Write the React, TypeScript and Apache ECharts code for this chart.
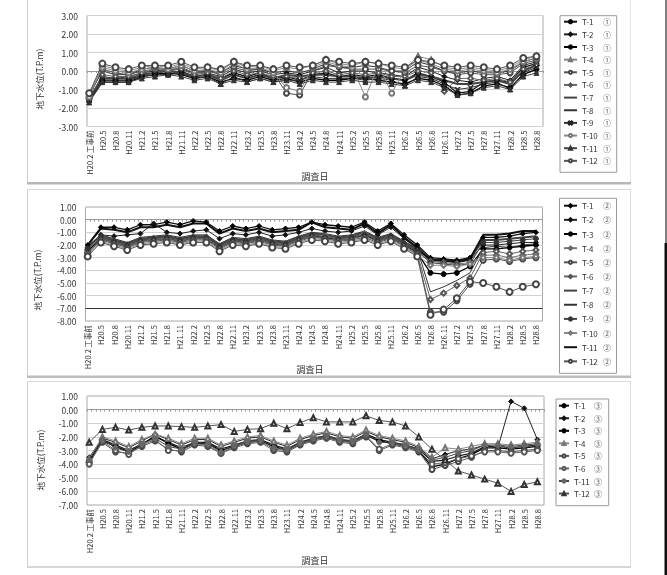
import React, { useEffect, useRef } from "react";
import * as echarts from "echarts";

const FONT = '"Noto Sans CJK JP", "Noto Sans", sans-serif';

// Tick labels (every 3 months), x-axis is monthly
const TICK_LABELS = [
  "H20.2 工事前", "H20.5", "H20.8", "H20.11", "H21.2", "H21.5", "H21.8", "H21.11",
  "H22.2", "H22.5", "H22.8", "H22.11", "H23.2", "H23.5", "H23.8", "H23.11",
  "H24.2", "H24.5", "H24.8", "H24.11", "H25.2", "H25.5", "H25.8", "H25.11",
  "H26.2", "H26.5", "H26.8", "H26.11", "H27.2", "H27.5", "H27.8", "H27.11",
  "H28.2", "H28.5", "H28.8",
];
const MONTH_COUNT = 104;
const CATEGORIES = Array.from({ length: MONTH_COUNT }, (_, i) =>
  i % 3 === 0 ? TICK_LABELS[i / 3] : `${TICK_LABELS[Math.floor(i / 3)]}+${i % 3}`
);

const Y_NAME = "地下水位(T.P.m)";
const X_NAME = "調査日";

// ---------- Chart ① ----------
const C1_NAMES = ["T-1 ①", "T-2 ①", "T-3 ①", "T-4 ①", "T-5 ①", "T-6 ①", "T-7 ①", "T-8 ①", "T-9 ①", "T-10 ①", "T-11 ①", "T-12 ①"];
const C1_T1 = [-1.4,-0.5,-0.5,-0.5,-0.2, -0.1,-0.2,0.0,-0.3,-0.2, -0.4,-0.1,-0.3,-0.1,-0.4, -0.3,-0.5,-0.2,-0.1,-0.3, -0.2,-0.3,-0.2,-0.4,-0.5, -0.1,-0.3,-0.6,-1.2,-1.1, -0.6,-0.5,-0.6,0.2,0.4];
const C1_T2 = [-1.5,-0.3,-0.4,-0.3,-0.1, 0.0,0.1,0.1,-0.1,-0.1, -0.3,0.1,-0.1,0.0,-0.2, -0.1,-0.2,0.0,0.2,-0.1, 0.0,0.0,-0.1,-0.2,-0.3, 0.2,0.0,-0.3,-0.5,-0.6, -0.4,-0.3,-0.5,0.3,0.5];
const C1_T3 = [-1.6,-0.6,-0.6,-0.6,-0.3, -0.2,-0.1,-0.2,-0.4,-0.3, -0.6,-0.4,-0.5,-0.3,-0.5, -0.4,-0.6,-0.4,-0.5,-0.5, -0.4,-0.4,-0.5,-0.6,-0.7, -0.4,-0.5,-0.8,-1.3,-1.2, -0.8,-0.7,-0.9,-0.2,0.1];
const C1_T4 = [-1.3,0.3,0.1,0.0,0.2, 0.3,0.2,0.4,0.1,0.2, 0.0,0.5,0.2,0.3,0.0, 0.2,0.1,0.3,0.6,0.4, 0.3,0.5,0.4,0.2,0.1, 0.8,0.6,0.2,0.1,0.2, 0.1,0.0,0.2,0.6,0.8];
const C1_T5 = [-1.4,0.1,-0.1,-0.2,0.0, 0.1,0.0,0.2,-0.1,0.0, -0.2,0.2,0.0,0.1,-0.1, -1.2,-1.3,0.0,0.3,0.2, 0.1,0.1,0.1,0.0,-0.1, 0.3,0.2,0.0,-0.2,-0.1, -0.2,-0.2,-0.1,0.4,0.6];
const C1_T6 = [-1.5,-0.2,-0.3,-0.3,-0.1, 0.1,0.0,0.1,-0.2,-0.1, -0.4,0.0,-0.2,-0.1,-0.3, -0.3,-0.4,-0.1,0.0,-0.2, -0.1,-0.2,-0.1,-0.3,-0.3, 0.0,-0.1,-1.1,-0.4,-0.4, -0.5,-0.4,-0.6,0.1,0.3];
const C1_T7 = [-1.5,-0.4,-0.4,-0.4,-0.2, -0.1,0.0,-0.1,-0.3,-0.2, -0.5,-0.2,-0.4,-0.2,-0.4, -0.2,-0.3,-0.2,-0.2,-0.3, -0.3,-0.4,-0.3,-0.4,-0.5, -0.2,-0.3,-0.5,-0.7,-0.7, -0.6,-0.5,-0.7,0.0,0.3];
const C1_T8 = [-1.3,0.0,-0.2,-0.2,0.1, 0.2,0.1,0.3,0.0,0.0, -0.1,0.3,0.1,0.1,-0.1, 0.0,-0.1,0.1,0.4,0.2, 0.2,0.3,0.2,0.0,0.0, 0.5,0.3,0.0,-0.1,0.0, -0.1,-0.1,0.0,0.5,0.7];
const C1_T9 = [-1.6,-0.5,-0.5,-0.5,-0.3, -0.2,-0.2,-0.1,-0.4,-0.3, -0.7,-0.3,-0.6,-0.4,-0.6, -0.5,-0.5,-0.3,-0.4,-0.4, -0.4,-0.5,-0.4,-0.5,-0.8, -0.3,-0.4,-0.7,-1.0,-0.9, -0.7,-0.6,-1.0,-0.1,0.2];
const C1_T10 = [-1.4,0.2,0.0,-0.1,0.1, 0.2,0.1,0.3,0.0,0.1, -0.1,0.4,0.1,0.2,-0.1, -0.9,-1.1,0.2,0.5,0.3, 0.2,-1.4,0.3,-1.2,0.1, 0.6,0.4,0.1,0.0,0.1, 0.0,-0.1,0.1,0.5,0.7];
const C1_T11 = [-1.7,-0.6,-0.6,-0.6,-0.4, -0.3,-0.2,-0.3,-0.5,-0.4, -0.7,-0.5,-0.6,-0.4,-0.6, -0.5,-0.7,-0.5,-0.6,-0.6, -0.5,-0.6,-0.6,-0.7,-0.8, -0.5,-0.6,-0.9,-1.3,-1.2, -0.9,-0.8,-1.0,-0.3,-0.1];
const C1_T12 = [-1.2,0.4,0.2,0.1,0.3, 0.3,0.3,0.5,0.2,0.2, 0.1,0.5,0.3,0.3,0.1, 0.3,0.2,0.3,0.6,0.5, 0.4,0.5,0.4,0.3,0.2, 0.6,0.5,0.3,0.2,0.3, 0.2,0.1,0.3,0.7,0.8];

// ---------- Chart ② ----------
const C2_NAMES = ["T-1 ②", "T-2 ②", "T-3 ②", "T-4 ②", "T-5 ②", "T-6 ②", "T-7 ②", "T-8 ②", "T-9 ②", "T-10 ②", "T-11 ②", "T-12 ②"];
const C2_T1 = [-2.0,-0.6,-0.6,-0.8,-0.4, -0.4,-0.2,-0.4,-0.1,-0.2, -0.9,-0.5,-0.7,-0.5,-0.8, -0.7,-0.6,-0.2,-0.4,-0.5, -0.6,-0.2,-0.9,-0.3,-1.2, -2.0,-3.0,-3.1,-3.2,-3.0, -1.4,-1.4,-1.3,-1.1,-1.0];
const C2_T2 = [-2.2,-1.2,-1.3,-1.2,-1.1, -0.3,-1.0,-1.1,-0.9,-0.8, -1.5,-1.1,-1.2,-1.0,-1.3, -1.2,-1.0,-0.7,-0.9,-1.0, -0.9,-0.5,-1.2,-0.6,-1.5, -2.3,-3.2,-3.3,-3.4,-3.2, -2.0,-2.0,-1.9,-1.8,-1.8];
const C2_T3 = [-2.5,-1.5,-1.8,-2.1,-1.7, -1.6,-1.5,-1.7,-1.5,-1.5, -2.2,-1.7,-1.8,-1.6,-1.9, -2.0,-1.6,-1.3,-1.4,-1.6, -1.5,-1.2,-1.7,-1.4,-2.0, -2.6,-4.2,-4.3,-4.2,-3.7, -2.3,-2.3,-2.2,-2.1,-2.0];
const C2_T4 = [-2.4,-1.4,-1.7,-2.0,-1.6, -1.5,-1.4,-1.6,-1.4,-1.4, -2.1,-1.6,-1.7,-1.5,-1.8, -1.9,-1.5,-1.2,-1.3,-1.5, -1.4,-1.1,-1.6,-1.3,-1.9, -2.5,-3.3,-3.4,-3.5,-3.4, -2.8,-2.8,-3.0,-2.8,-2.7];
const C2_T5 = [-2.7,-1.6,-1.9,-2.2,-1.8, -1.7,-1.6,-1.8,-1.6,-1.6, -2.3,-1.8,-1.9,-1.7,-2.0, -2.1,-1.7,-1.4,-1.5,-1.7, -1.6,-1.4,-1.8,-1.5,-2.1, -2.8,-7.3,-7.3,-6.4,-5.1, -3.2,-3.1,-3.3,-3.1,-3.0];
const C2_T6 = [-2.6,-1.5,-1.8,-2.1,-1.7, -1.6,-1.5,-1.7,-1.5,-1.5, -2.2,-1.7,-1.8,-1.6,-1.9, -2.0,-1.6,-1.3,-1.5,-1.6, -1.5,-1.3,-1.7,-1.4,-2.0, -2.7,-6.3,-5.8,-5.2,-4.6, -2.6,-2.5,-2.7,-2.5,-2.4];
const C2_T7 = [-2.1,-1.3,-1.6,-1.9,-1.5, -1.4,-1.3,-1.5,-1.3,-1.3, -2.0,-1.5,-1.6,-1.4,-1.7, -1.8,-1.4,-1.1,-1.2,-1.4, -1.3,-1.0,-1.5,-1.2,-1.8, -2.4,-3.1,-3.2,-3.3,-3.1, -1.6,-1.6,-1.5,-1.4,-1.3];
const C2_T8 = [-2.2,-1.2,-1.5,-1.8,-1.4, -1.3,-1.2,-1.4,-1.2,-1.2, -1.9,-1.4,-1.5,-1.3,-1.6, -1.7,-1.3,-1.0,-1.1,-1.3, -1.2,-0.9,-1.4,-1.1,-1.7, -2.3,-5.7,-5.3,-4.8,-4.2, -2.2,-2.1,-2.2,-2.0,-1.9];
const C2_T9 = [-2.3,-1.4,-1.7,-2.0,-1.6, -1.5,-1.4,-1.6,-1.4,-1.4, -2.1,-1.6,-1.7,-1.5,-1.8, -1.9,-1.5,-1.2,-1.4,-1.5, -1.4,-1.2,-1.6,-1.3,-1.9, -2.5,-3.4,-3.5,-3.6,-3.5, -1.8,-1.8,-1.7,-1.6,-1.5];
const C2_T10 = [-2.8,-1.7,-2.0,-2.3,-1.9, -1.8,-1.7,-1.9,-1.7,-1.7, -2.4,-1.9,-2.0,-1.8,-2.1, -2.2,-1.8,-1.5,-1.6,-1.8, -1.7,-1.5,-1.9,-1.6,-2.2, -2.8,-3.6,-3.6,-3.7,-3.5, -3.0,-3.0,-3.2,-3.0,-2.9];
const C2_T11 = [-2.0,-0.7,-0.8,-1.0,-0.6, -0.6,-0.4,-0.6,-0.3,-0.3, -1.1,-0.7,-0.9,-0.7,-1.0, -0.9,-0.8,-0.2,-0.6,-0.7, -0.8,-0.3,-1.1,-0.4,-1.4, -2.2,-3.2,-3.2,-3.3,-3.1, -1.2,-1.2,-1.1,-0.9,-0.9];
const C2_T12 = [-2.9,-1.8,-2.1,-2.4,-2.0, -1.9,-1.8,-2.0,-1.8,-1.8, -2.5,-2.0,-2.1,-1.9,-2.2, -2.3,-1.9,-1.6,-1.7,-1.9, -1.8,-1.6,-2.0,-1.7,-2.3, -2.9,-7.5,-7.1,-6.2,-4.9, -5.0,-5.3,-5.7,-5.3,-5.1];

// ---------- Chart ③ ----------
const C3_NAMES = ["T-1 ③", "T-2 ③", "T-3 ③", "T-4 ③", "T-5 ③", "T-6 ③", "T-11③", "T-12③"];
const C3_T1 = [-3.7,-2.2,-2.6,-3.0,-2.5, -2.0,-2.4,-2.8,-2.4,-2.4, -2.9,-2.6,-2.3,-2.2,-2.6, -2.9,-2.4,-2.1,-1.9,-2.2, -2.3,-1.8,-2.2,-2.4,-2.6, -2.9,-3.8,-3.7,-3.4,-3.2, -2.7,-2.7,-2.8,-2.7,-2.6];
const C3_T2 = [-3.5,-2.1,-2.4,-2.8,-2.3, -1.8,-2.2,-2.6,-2.2,-2.2, -2.7,-2.4,-2.1,-2.0,-2.4, -2.7,-2.2,-1.9,-1.7,-2.0, -2.1,-1.6,-2.0,-2.2,-2.4, -2.8,-3.6,-3.3,-3.0,-2.9, -2.6,-2.8,0.6,0.1,-2.2];
const C3_T3 = [-3.8,-2.3,-2.7,-3.1,-2.6, -1.9,-2.5,-2.9,-2.5,-2.5, -3.0,-2.7,-2.4,-2.3,-2.7, -3.0,-2.5,-2.2,-2.0,-2.3, -2.4,-1.9,-2.3,-2.5,-2.7, -3.0,-4.2,-4.0,-3.6,-3.3, -2.8,-2.8,-2.9,-2.8,-2.7];
const C3_T4 = [-3.6,-2.0,-2.3,-2.7,-2.2, -1.8,-2.1,-2.5,-2.1,-2.1, -2.6,-2.3,-2.0,-1.9,-2.3, -2.6,-2.1,-1.8,-1.6,-1.9, -2.0,-1.5,-1.9,-2.1,-2.3, -2.7,-3.5,-2.8,-2.9,-2.7, -2.5,-2.5,-2.6,-2.5,-2.4];
const C3_T5 = [-3.9,-2.4,-3.1,-3.2,-2.7, -2.3,-2.9,-3.1,-2.6,-2.7, -3.2,-2.8,-2.5,-2.4,-3.0, -3.1,-2.6,-2.3,-2.1,-2.4, -2.5,-2.0,-3.0,-2.6,-2.8, -3.1,-4.4,-4.1,-3.8,-3.5, -3.0,-3.0,-3.1,-3.0,-2.9];
const C3_T6 = [-4.0,-2.3,-3.0,-3.3,-2.6, -2.2,-3.0,-3.0,-2.5,-2.6, -3.2,-2.7,-2.4,-2.3,-2.9, -3.0,-2.5,-2.2,-2.0,-2.3, -2.4,-1.9,-2.9,-2.5,-2.7, -3.0,-4.0,-3.9,-3.6,-3.4, -3.1,-3.1,-3.2,-3.1,-3.0];
const C3_T11 = [-3.7,-2.2,-2.8,-3.1,-2.5, -2.1,-2.7,-2.9,-2.4,-2.5, -3.1,-2.6,-2.3,-2.2,-2.8, -2.9,-2.4,-2.1,-1.9,-2.2, -2.3,-1.8,-2.4,-2.4,-2.6, -2.9,-3.7,-3.5,-3.2,-3.0, -2.6,-2.6,-2.7,-2.6,-2.5];
const C3_T12 = [-2.4,-1.45,-1.3,-1.5,-1.3, -1.2,-1.2,-1.25,-1.3,-1.2, -1.1,-1.6,-1.45,-1.4,-1.0, -1.4,-0.95,-0.6,-0.9,-0.9, -0.9,-0.45,-0.8,-0.9,-1.2, -2.0,-2.9,-3.7,-4.5,-4.8, -5.1,-5.4,-6.0,-5.5,-5.3];

const C1_DATA = [C1_T1, C1_T2, C1_T3, C1_T4, C1_T5, C1_T6, C1_T7, C1_T8, C1_T9, C1_T10, C1_T11, C1_T12];
const C2_DATA = [C2_T1, C2_T2, C2_T3, C2_T4, C2_T5, C2_T6, C2_T7, C2_T8, C2_T9, C2_T10, C2_T11, C2_T12];
const C3_DATA = [C3_T1, C3_T2, C3_T3, C3_T4, C3_T5, C3_T6, C3_T11, C3_T12];

const CROSS = "path://M0,1L1,0L5,4L9,0L10,1L6,5L10,9L9,10L5,6L1,10L0,9L4,5Z";

type Sty = { symbol: string; size: number; color: string; line: string; width: number };
const STY_1: Sty[] = [
  { symbol: "circle", size: 5, color: "#000", line: "#111", width: 1.2 },
  { symbol: "diamond", size: 5, color: "#111", line: "#222", width: 1 },
  { symbol: "circle", size: 5, color: "#000", line: "#000", width: 1.3 },
  { symbol: "emptyTriangle", size: 5, color: "#777", line: "#888", width: 1 },
  { symbol: "emptyCircle", size: 5, color: "#444", line: "#555", width: 1 },
  { symbol: "emptyDiamond", size: 5, color: "#555", line: "#666", width: 1 },
  { symbol: "none", size: 0, color: "#444", line: "#444", width: 2 },
  { symbol: "none", size: 0, color: "#333", line: "#333", width: 1 },
  { symbol: CROSS, size: 5, color: "#222", line: "#333", width: 1 },
  { symbol: "emptyCircle", size: 5, color: "#777", line: "#888", width: 1 },
  { symbol: "triangle", size: 5, color: "#333", line: "#444", width: 1 },
  { symbol: "emptyCircle", size: 6, color: "#444", line: "#555", width: 1 },
];
const STY_2: Sty[] = [
  { symbol: "diamond", size: 5, color: "#000", line: "#111", width: 1.3 },
  { symbol: "diamond", size: 5, color: "#111", line: "#222", width: 1 },
  { symbol: "circle", size: 5, color: "#000", line: "#000", width: 1.3 },
  { symbol: "emptyDiamond", size: 5, color: "#666", line: "#777", width: 1 },
  { symbol: "emptyCircle", size: 5, color: "#444", line: "#555", width: 1 },
  { symbol: "emptyDiamond", size: 5, color: "#555", line: "#666", width: 1 },
  { symbol: "none", size: 0, color: "#444", line: "#444", width: 2 },
  { symbol: "none", size: 0, color: "#333", line: "#333", width: 1 },
  { symbol: "circle", size: 5, color: "#333", line: "#444", width: 1 },
  { symbol: "emptyDiamond", size: 5, color: "#777", line: "#888", width: 1 },
  { symbol: "none", size: 0, color: "#111", line: "#111", width: 2 },
  { symbol: "emptyCircle", size: 6, color: "#444", line: "#555", width: 1 },
];
const STY_3: Sty[] = [
  { symbol: "circle", size: 5, color: "#000", line: "#111", width: 1.2 },
  { symbol: "diamond", size: 5, color: "#111", line: "#222", width: 1 },
  { symbol: "circle", size: 5, color: "#000", line: "#000", width: 1.3 },
  { symbol: "emptyTriangle", size: 5, color: "#777", line: "#888", width: 1 },
  { symbol: "emptyCircle", size: 5, color: "#444", line: "#555", width: 1 },
  { symbol: "emptyCircle", size: 5, color: "#555", line: "#666", width: 1 },
  { symbol: "circle", size: 5, color: "#666", line: "#444", width: 1 },
  { symbol: "emptyTriangle", size: 5, color: "#333", line: "#555", width: 1 },
];

function buildSeries(names: string[], datas: number[][], styles: Sty[], idx: number) {
  return names.map((name, i) => {
    const st = styles[i];
    return {
      type: "line",
      name,
      xAxisIndex: idx,
      yAxisIndex: idx,
      data: datas[i].map((v, k) => [k * 3, v]),
      symbol: st.symbol,
      symbolSize: st.size,
      showAllSymbol: true,
      lineStyle: { color: st.line, width: st.width },
      itemStyle: { color: st.color, borderColor: st.color, borderWidth: 1 },
      emphasis: { disabled: true },
      silent: true,
      animation: false,
    };
  });
}

const TXT = "#333";

function legendFor(names: string[], styles: Sty[], left: number, top: number, gap: number, aWidth: number, iconW: number) {
  return {
    data: names.map((name, i) =>
      styles[i].symbol === "none" ? { name, itemStyle: { opacity: 0 } } : { name }
    ),
    orient: "vertical",
    left,
    top,
    padding: 0,
    itemWidth: iconW,
    itemHeight: 4,
    itemGap: gap,
    selectedMode: false,
    formatter: (name: string) => {
      const m = name.match(/^(T-\d+)\s*(.)$/);
      return m ? `{a|${m[1]}}{b|${m[2]}}` : name;
    },
    textStyle: {
      fontSize: 8,
      lineHeight: 8,
      color: TXT,
      fontFamily: FONT,
      rich: {
        a: { width: aWidth, fontSize: 8, lineHeight: 8, color: TXT, fontFamily: FONT },
        b: { fontSize: 8, lineHeight: 8, color: "#555", fontFamily: FONT },
      },
    },
  };
}

function yAxisFor(idx: number, min: number, max: number, lineColors: string[] | string) {
  return {
    type: "value",
    gridIndex: idx,
    min,
    max,
    interval: 1,
    axisLine: { show: false },
    axisTick: { show: false },
    axisLabel: {
      formatter: (v: number) => v.toFixed(2),
      fontSize: 8.5,
      color: TXT,
      margin: 9,
      fontFamily: FONT,
    },
    splitLine: { show: true, lineStyle: { color: lineColors, width: 1 } },
  };
}

function xAxisFor(idx: number) {
  return {
    type: "category",
    gridIndex: idx,
    data: CATEGORIES,
    boundaryGap: true,
    axisLine: { show: true, lineStyle: { color: "#999", width: 1 } },
    axisTick: { show: true, interval: 0, length: 2, lineStyle: { color: "#999" } },
    axisLabel: {
      interval: 2,
      rotate: 90,
      fontSize: 7.5,
      color: TXT,
      margin: 4,
      fontFamily: FONT,
    },
    splitLine: { show: false },
  };
}

function hline(x1: number, x2: number, y: number, color: string, w = 1) {
  return { type: "line", shape: { x1, y1: y, x2, y2: y }, style: { stroke: color, lineWidth: w }, silent: true };
}
function vline(x: number, y1: number, y2: number, color: string, w = 1) {
  return { type: "line", shape: { x1: x, y1, x2: x, y2 }, style: { stroke: color, lineWidth: w }, silent: true };
}
function boxRect(x: number, y: number, width: number, height: number) {
  return { type: "rect", shape: { x, y, width, height }, style: { fill: "none", stroke: "#9a9a9a", lineWidth: 1 }, silent: true };
}
function label(text: string, x: number, y: number, rot = 0, size = 9) {
  return {
    type: "text",
    x,
    y,
    rotation: rot,
    silent: true,
    style: { text, fontSize: size, fontFamily: FONT, fill: TXT, align: "center", verticalAlign: "middle" },
  };
}

export default function App() {
  const ref = useRef<HTMLDivElement>(null);
  useEffect(() => {
    if (!ref.current) return;
    const chart = echarts.init(ref.current, undefined, { renderer: "svg" });
    const light = "#d2d2d2";
    const c2Lines = ["#d2d2d2", "#333", "#d2d2d2", "#d2d2d2", "#d2d2d2", "#d2d2d2", "#d2d2d2", "#d2d2d2", "#d2d2d2", "#d2d2d2"];
    const option: any = {
      animation: false,
      backgroundColor: "#fff",
      grid: [
        { left: 87, top: 15.5, width: 456, height: 111, show: true, borderColor: "#aaa", borderWidth: 1, outerBoundsMode: "none" },
        { left: 85.5, top: 207, width: 457, height: 114, show: true, borderColor: "#aaa", borderWidth: 1, outerBoundsMode: "none" },
        { left: 87, top: 396, width: 457, height: 109, show: true, borderColor: "#aaa", borderWidth: 1, outerBoundsMode: "none" },
      ],
      xAxis: [xAxisFor(0), xAxisFor(1), xAxisFor(2)],
      yAxis: [yAxisFor(0, -3, 3, light), yAxisFor(1, -8, 1, c2Lines), yAxisFor(2, -7, 1, light)],
      legend: [
        legendFor(C1_NAMES, STY_1, 563, 17.7, 4.65, 21, 13),
        legendFor(C2_NAMES, STY_2, 563, 201.7, 6.15, 21, 13),
        legendFor(C3_NAMES, STY_3, 558, 401.7, 4.55, 20, 10),
      ],
      series: [
        ...buildSeries(C1_NAMES, C1_DATA, STY_1, 0),
        ...buildSeries(C2_NAMES, C2_DATA, STY_2, 1),
        ...buildSeries(C3_NAMES, C3_DATA, STY_3, 2),
      ],
      graphic: [
        // panel 1
        vline(27.5, 0, 182, "#cfcfcf"),
        vline(630.5, 0, 182, "#e6e6e6"),
        { type: "rect", shape: { x: 27, y: 182, width: 604, height: 2.5 }, style: { fill: "#b8b8b8" }, silent: true },
        // panel 2
        hline(27, 631, 189.5, "#d8d8d8"),
        vline(27.5, 189.5, 376, "#cfcfcf"),
        vline(630.5, 189.5, 376, "#dcdcdc"),
        { type: "rect", shape: { x: 27, y: 375.5, width: 604, height: 2.5 }, style: { fill: "#bdbdbd" }, silent: true },
        // panel 3
        hline(27, 631, 381.5, "#dcdcdc"),
        vline(27.5, 381.5, 567, "#cfcfcf"),
        vline(630.5, 381.5, 567, "#e0e0e0"),
        { type: "rect", shape: { x: 27, y: 566, width: 604, height: 2 }, style: { fill: "#d6d6d6" }, silent: true },
        // legend boxes
        boxRect(560, 15.7, 56.7, 156.6),
        boxRect(559.5, 198.3, 57, 175),
        boxRect(556, 399, 52.7, 106.7),
        // axis titles
        label(Y_NAME, 39, 79, Math.PI / 2, 8.5),
        label(Y_NAME, 36.5, 280, Math.PI / 2, 8.5),
        label(Y_NAME, 40, 460, Math.PI / 2, 8.5),
        label(X_NAME, 315, 176),
        label(X_NAME, 310, 369.5),
        label(X_NAME, 315, 560),
        // scanned page edge
        vline(666, 0, 243, "#555", 1.5),
        { type: "rect", shape: { x: 664.5, y: 243, width: 2.5, height: 332 }, style: { fill: "#111" }, silent: true },
      ],
    };
    chart.setOption(option);
    return () => chart.dispose();
  }, []);
  return (
    <div
      ref={ref}
      style={{ position: "absolute", left: 0, top: 0, width: 667, height: 575, background: "#fff", filter: "blur(0.45px)" }}
    />
  );
}
